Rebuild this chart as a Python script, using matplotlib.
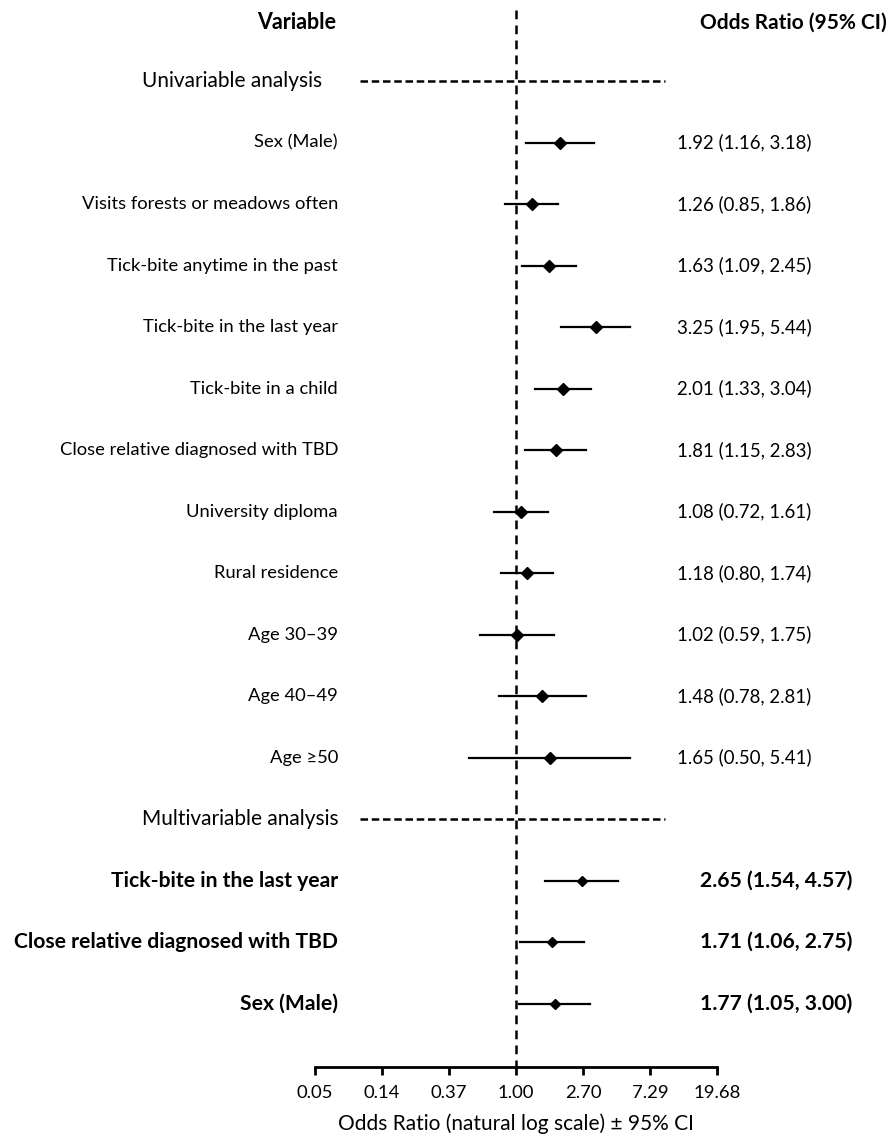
import numpy as np
import matplotlib
matplotlib.use("Agg")
import matplotlib.pyplot as plt
import matplotlib.transforms as mtransforms

plt.rcParams['font.family'] = ['Lato', 'DejaVu Sans']

# univariable analysis
uni_labels = ["Sex (Male)", "Visits forests or meadows often", "Tick-bite anytime in the past",
              "Tick-bite in the last year", "Tick-bite in a child", "Close relative diagnosed with TBD",
              "University diploma", "Rural residence", "Age 30\u201339", "Age 40\u201349", "Age \u226550"]
uni_or = [1.92, 1.26, 1.63, 3.25, 2.01, 1.81, 1.08, 1.18, 1.02, 1.48, 1.65]
uni_lo = [1.16, 0.85, 1.09, 1.95, 1.33, 1.15, 0.72, 0.80, 0.59, 0.78, 0.50]
uni_hi = [3.18, 1.86, 2.45, 5.44, 3.04, 2.83, 1.61, 1.74, 1.75, 2.81, 5.41]

# multivariable analysis
multi_labels = ["Tick-bite in the last year", "Close relative diagnosed with TBD", "Sex (Male)"]
multi_or = [2.65, 1.71, 1.77]
multi_lo = [1.54, 1.06, 1.05]
multi_hi = [4.57, 2.75, 3.00]

tick_vals = [2.7 ** k for k in range(-3, 4)]
tick_labels = ["0.05", "0.14", "0.37", "1.00", "2.70", "7.29", "19.68"]

W, H = 891, 1139
fig = plt.figure(figsize=(W / 100, H / 100), dpi=100)

row_px = 61.5
top_row_y = 81
axis_y = 1067
ax = fig.add_axes([315 / W, (H - axis_y) / H, 402 / W, axis_y / H])
ax.set_xscale('log')
ax.set_xlim(tick_vals[0], tick_vals[-1])
ax.set_ylim((axis_y - top_row_y) / row_px, -top_row_y / row_px)

for s in ['top', 'right', 'left']:
    ax.spines[s].set_visible(False)
ax.spines['bottom'].set_linewidth(2)
ax.set_yticks([])
ax.set_xticks(tick_vals)
ax.set_xticklabels(tick_labels, fontsize=13.3)
ax.xaxis.set_minor_locator(matplotlib.ticker.NullLocator())
ax.tick_params(axis='x', direction='out', length=6, width=2, pad=7)
ax.set_xlabel("Odds Ratio (natural log scale) \u00b1 95% CI", fontsize=15, labelpad=9)

# figure-x / data-y transform for text columns
tr = mtransforms.blended_transform_factory(fig.transFigure, ax.transData)

uni_rows = np.arange(1, len(uni_labels) + 1)
multi_head = len(uni_labels) + 1
multi_rows = np.arange(multi_head + 1, multi_head + 1 + len(multi_labels))

# reference line
ax.plot([1, 1], [-1.15, ax.get_ylim()[0]], color='black', lw=1.8, ls=(0, (3.5, 2.5)), clip_on=False)

# section headers
for r, name in [(0, "Univariable analysis"), (multi_head, "Multivariable analysis")]:
    ax.hlines(r, 0.099, 9.1, color='black', lw=1.8, ls=(0, (3, 1.5)), clip_on=False)
    ax.text(142 / W, r, name, transform=tr, ha='left', va='center', fontsize=15)

# headers
ax.text(297 / W, -0.95, "Variable", transform=tr, ha='center', va='center', fontsize=15.5, fontweight='bold')
ax.text(700 / W, -0.95, "Odds Ratio (95% CI)", transform=tr, ha='left', va='center', fontsize=15, fontweight='bold')

# univariable rows
for r, lab, o, lo, hi in zip(uni_rows, uni_labels, uni_or, uni_lo, uni_hi):
    ax.plot([lo, hi], [r, r], color='black', lw=1.6)
    ax.plot(o, r, marker='D', ms=6.5, color='black')
    ax.text(338 / W, r, lab, transform=tr, ha='right', va='center', fontsize=13.2)
    ax.text(677 / W, r, "%.2f (%.2f, %.2f)" % (o, lo, hi), transform=tr, ha='left', va='center', fontsize=13.4)

# multivariable rows
for r, lab, o, lo, hi in zip(multi_rows, multi_labels, multi_or, multi_lo, multi_hi):
    ax.plot([lo, hi], [r, r], color='black', lw=1.6)
    ax.plot(o, r, marker='D', ms=5.5, color='black')
    ax.text(338 / W, r, lab, transform=tr, ha='right', va='center', fontsize=15.2, fontweight='bold')
    ax.text(700 / W, r, "%.2f (%.2f, %.2f)" % (o, lo, hi), transform=tr, ha='left', va='center',
            fontsize=15.2, fontweight='bold')

fig.savefig("out.png", dpi=100)
